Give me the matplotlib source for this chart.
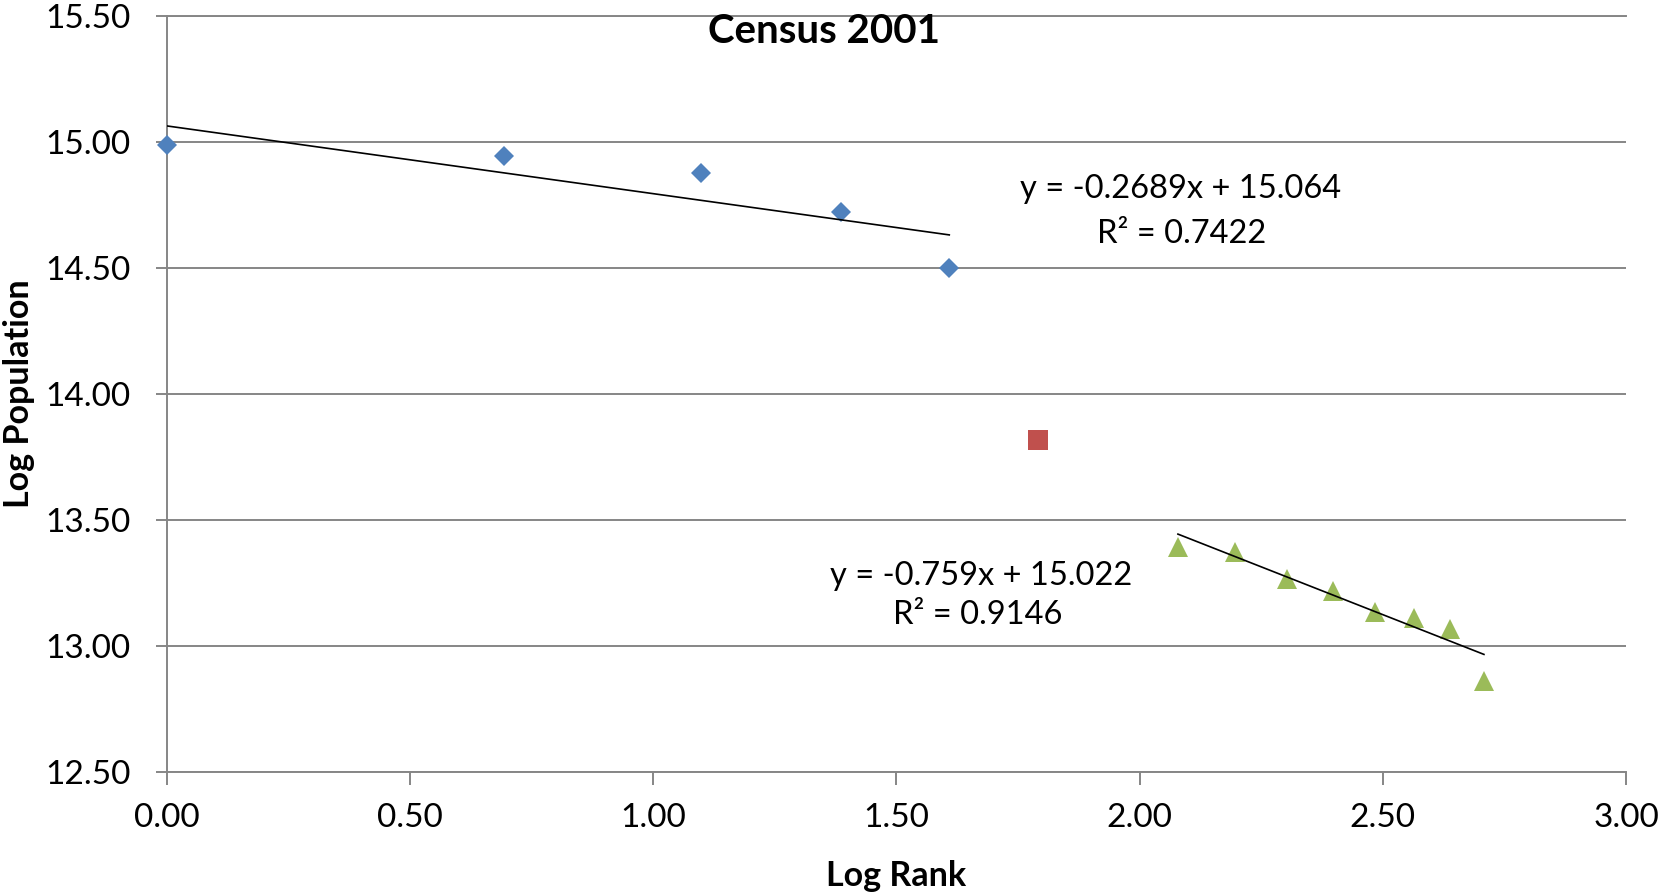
import matplotlib.pyplot as plt
from matplotlib.ticker import FormatStrFormatter

plt.rcParams['font.family'] = ['Lato', 'DejaVu Sans']

# log rank / log population
top_rank = [0.000, 0.693, 1.099, 1.386, 1.609]
top_pop = [14.988, 14.946, 14.878, 14.723, 14.500]

mid_rank = [1.792]
mid_pop = [13.818]

low_rank = [2.079, 2.197, 2.303, 2.398, 2.485, 2.565, 2.639, 2.708]
low_pop = [13.394, 13.373, 13.267, 13.217, 13.133, 13.112, 13.069, 12.862]

# trend lines as printed on the chart (slope, intercept)
top_fit = (-0.2689, 15.064)
low_fit = (-0.759, 15.022)
top_eq = ["y = -0.2689x + 15.064", "R² = 0.7422"]
low_eq = ["y = -0.759x + 15.022", "R² = 0.9146"]

x_ticks = [0.0, 0.5, 1.0, 1.5, 2.0, 2.5, 3.0]
y_ticks = [12.5, 13.0, 13.5, 14.0, 14.5, 15.0, 15.5]

W, H = 1661, 894
gray = '#868686'

fig = plt.figure(figsize=(W / 100, H / 100), dpi=100)
ax = fig.add_axes([166.5 / W, 1 - 772 / H, 1459.5 / W, 756 / H])

ax.plot(top_rank, top_pop, 'D', color='#4F81BD', ms=10.3, mew=0, zorder=3, clip_on=False)
ax.plot(mid_rank, mid_pop, 's', color='#C0504D', ms=14, mew=0, zorder=3)
ax.plot(low_rank, low_pop, '^', color='#9BBB59', ms=14.6, mew=0, zorder=3)

# trend lines over the range of each group
for xs, (m, b) in [(top_rank, top_fit), (low_rank, low_fit)]:
    x0, x1 = min(xs), max(xs)
    ax.plot([x0, x1], [m * x0 + b, m * x1 + b], color='black', lw=1.2, zorder=4)

ax.set_xlim(0, 3)
ax.set_ylim(12.5, 15.5)
ax.set_xticks(x_ticks)
ax.set_yticks(y_ticks)
ax.xaxis.set_major_formatter(FormatStrFormatter('%.2f'))
ax.yaxis.set_major_formatter(FormatStrFormatter('%.2f'))

ax.yaxis.grid(True, color=gray, lw=1.4, zorder=0)
ax.set_axisbelow(True)
ax.spines['right'].set_visible(False)
for side in ['left', 'bottom', 'top']:
    ax.spines[side].set_color(gray)
    ax.spines[side].set_linewidth(1.4)

ax.tick_params(axis='y', direction='out', length=8, width=1.4, color=gray,
               labelsize=24, pad=18)
ax.tick_params(axis='x', direction='out', length=9, width=1.4, color=gray,
               labelsize=24, pad=13)

# equation labels
fig.text(1181 / W, 1 - 198.3 / H, top_eq[0], ha='center', va='baseline', fontsize=23.5)
fig.text(1182 / W, 1 - 243.3 / H, top_eq[1], ha='center', va='baseline', fontsize=23.5)
fig.text(981 / W, 1 - 585 / H, low_eq[0], ha='center', va='baseline', fontsize=23.5)
fig.text(978 / W, 1 - 624 / H, low_eq[1], ha='center', va='baseline', fontsize=23.5)

fig.text(823.5 / W, 1 - 43 / H, "Census 2001", ha='center', va='baseline',
         fontsize=29, fontweight='bold')
fig.text(896 / W, 1 - 886 / H, "Log Rank", ha='center', va='baseline',
         fontsize=24.5, fontweight='bold')
fig.text(19 / W, 1 - 394 / H, "Log Population", ha='center', va='center',
         rotation=90, fontsize=24.5, fontweight='bold')

fig.savefig('out.png', dpi=100)
